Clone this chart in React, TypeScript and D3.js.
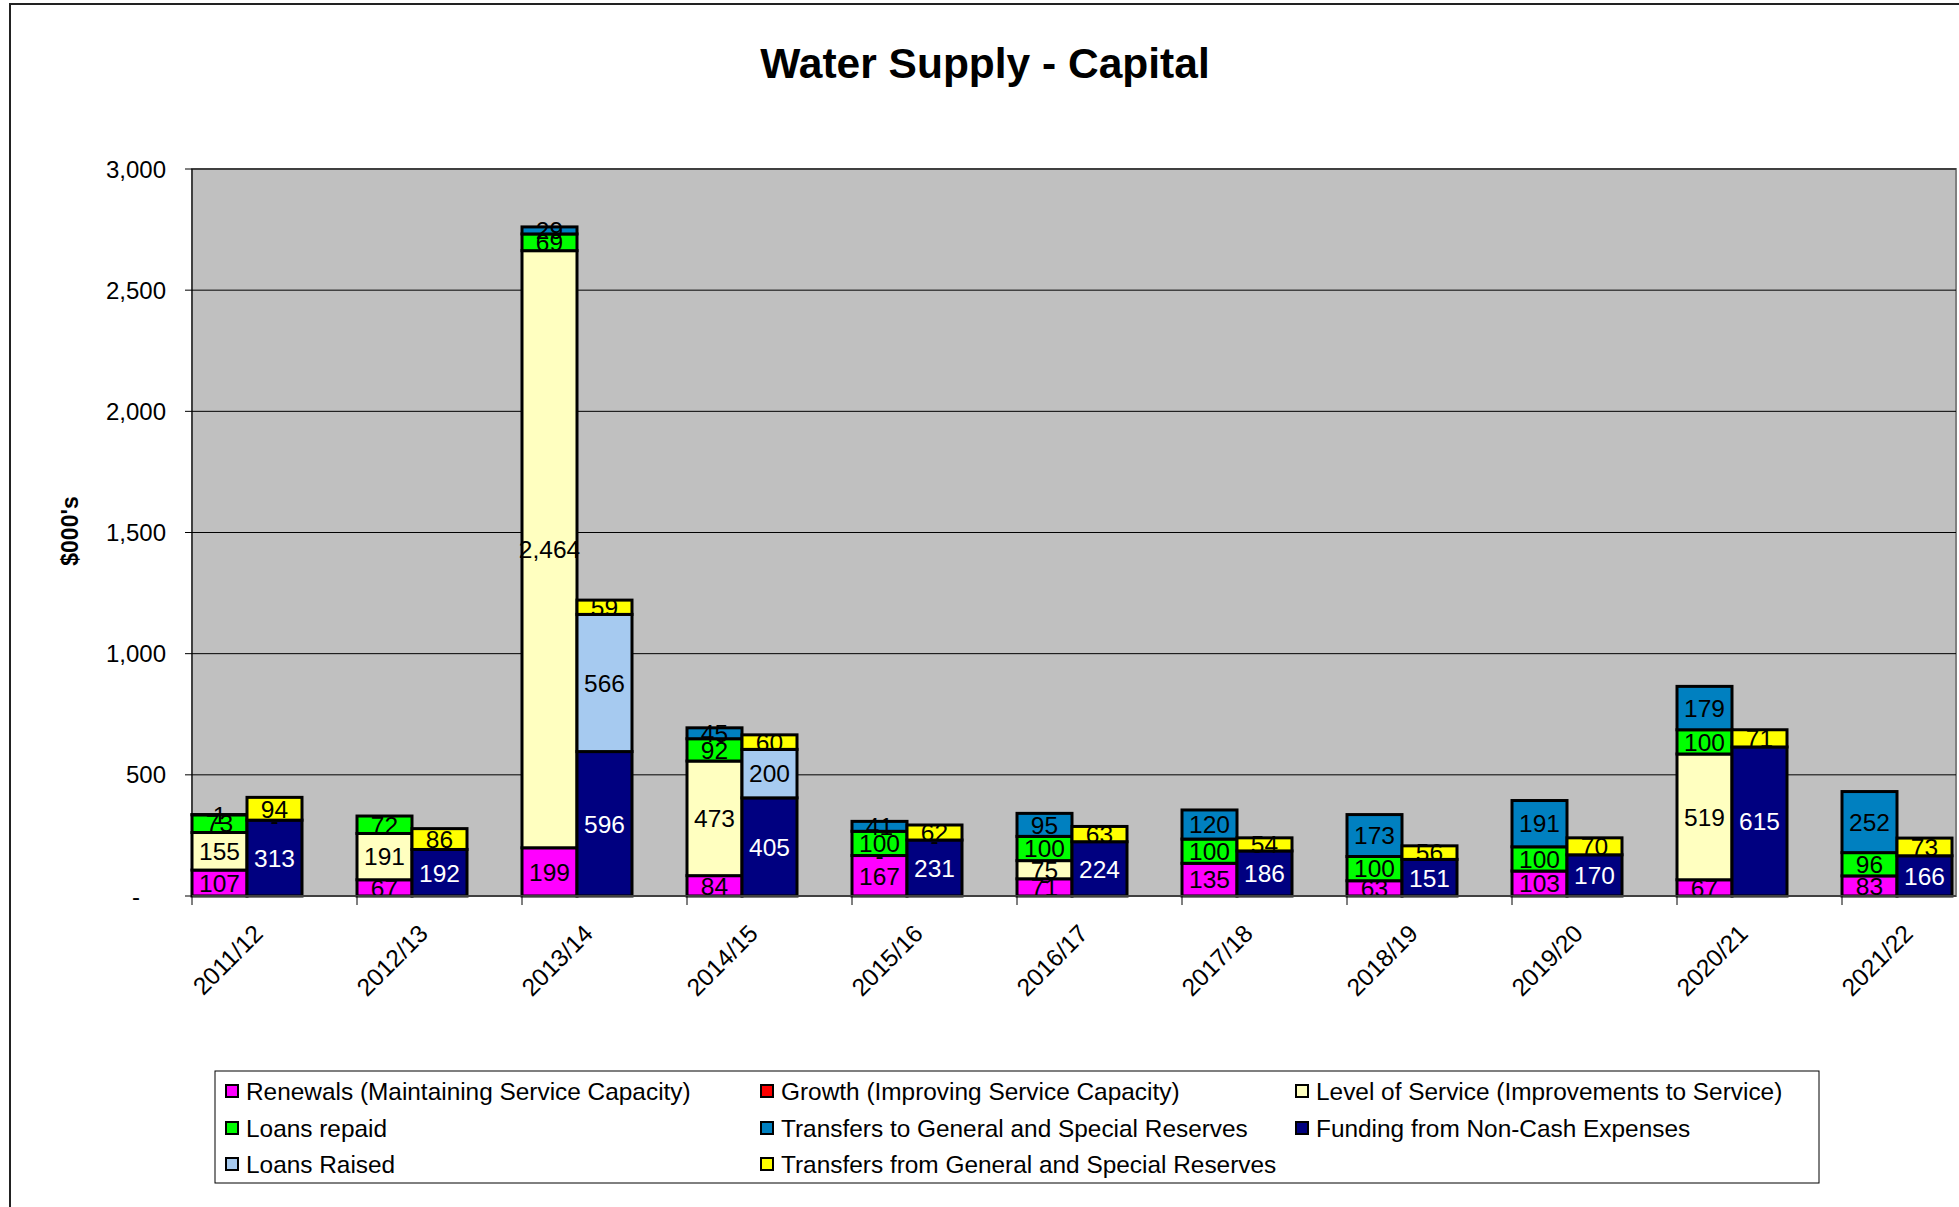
import React from "react";
import * as d3 from "d3";

const years = ["2011/12", "2012/13", "2013/14", "2014/15", "2015/16", "2016/17", "2017/18", "2018/19", "2019/20", "2020/21", "2021/22"];

const renewals = [107, 67, 199, 84, 167, 71, 135, 63, 103, 67, 83];
const growth = [null, null, null, null, null, 0, null, null, null, null, null];
const levelOfService = [155, 191, 2464, 473, 0, 75, null, null, null, 519, null];
const loansRepaid = [73, 72, 69, 92, 100, 100, 100, 100, 100, 100, 96];
const transfersTo = [1, null, 29, 45, 41, 95, 120, 173, 191, 179, 252];
const nonCash = [313, 192, 596, 405, 231, 224, 186, 151, 170, 615, 166];
const loansRaised = [0, null, 566, 200, 0, null, null, null, null, null, null];
const transfersFrom = [94, 86, 59, 60, 62, 63, 54, 56, 70, 71, 73];

const yTicks = [0, 500, 1000, 1500, 2000, 2500, 3000];

type Series = { name: string; values: (number | null)[]; color: string; text: string; group: 0 | 1 };

const seriesList: Series[] = [
  { name: "Renewals (Maintaining Service Capacity)", values: renewals, color: "#FF00FF", text: "#000", group: 0 },
  { name: "Growth (Improving Service Capacity)", values: growth, color: "#FF0000", text: "#000", group: 0 },
  { name: "Level of Service (Improvements to Service)", values: levelOfService, color: "#FFFFC0", text: "#000", group: 0 },
  { name: "Loans repaid", values: loansRepaid, color: "#00FF00", text: "#000", group: 0 },
  { name: "Transfers to General and Special Reserves", values: transfersTo, color: "#0080C0", text: "#000", group: 0 },
  { name: "Funding from Non-Cash Expenses", values: nonCash, color: "#000080", text: "#FFF", group: 1 },
  { name: "Loans Raised", values: loansRaised, color: "#A6CAF0", text: "#000", group: 1 },
  { name: "Transfers from General and Special Reserves", values: transfersFrom, color: "#FFFF00", text: "#000", group: 1 },
];

const FONT = "'Liberation Sans', Arial, sans-serif";

export default function App() {
  const W = 1959, H = 1207;
  const plotL = 192, plotR = 1956, plotT = 169, plotB = 896;
  const slots = d3.range(years.length * 3);
  const x = d3.scaleBand<number>().domain(slots).range([plotL, plotL + 55 * slots.length]).padding(0);
  const y = d3.scaleLinear().domain([0, 3000]).range([plotB, plotT]);
  const fmt = d3.format(",");
  const labelFmt = (v: number) => (v === 0 ? "-" : fmt(v));

  const rects: any[] = [];
  const labels: any[] = [];
  years.forEach((yr, i) => {
    const base = [0, 0];
    seriesList.forEach((s, si) => {
      const v = s.values[i];
      if (v === null || v === undefined) return;
      const g = s.group;
      const x0 = x(i * 3 + g)!;
      const bw = x.bandwidth();
      const y0 = y(base[g]);
      const y1 = y(base[g] + v);
      if (v > 0) {
        rects.push(
          <rect key={`r-${i}-${si}`} x={x0} y={y1} width={bw} height={y0 - y1} fill={s.color} stroke="#000" strokeWidth={3} />
        );
      }
      labels.push(
        <text key={`l-${i}-${si}`} x={x0 + bw / 2} y={(y0 + y1) / 2} dy="0.36em" textAnchor="middle" fontSize={24.5} fill={s.text} fontFamily={FONT}>
          {labelFmt(v)}
        </text>
      );
      base[g] += v;
    });
  });

  const legendCols = [226, 761, 1296];
  const legendRows = [1091, 1128, 1164];

  return (
    <svg width={W} height={H} style={{ position: "absolute", left: 0, top: 0, background: "#fff" }} fontFamily={FONT}>
      <rect x={0} y={0} width={W} height={H} fill="#fff" />
      <rect x={10} y={4} width={2200} height={1400} fill="#fff" stroke="#222" strokeWidth={2} />
      <text x={985} y={78} textAnchor="middle" fontSize={42.5} fontWeight="bold" fill="#000">Water Supply - Capital</text>

      <rect x={plotL} y={plotT} width={plotR - plotL} height={plotB - plotT} fill="#C0C0C0" stroke="#808080" strokeWidth={2} />
      {yTicks.filter((t) => t > 0).map((t) => (
        <line key={`g${t}`} x1={plotL} x2={plotR} y1={y(t)} y2={y(t)} stroke="#000" strokeWidth={1} />
      ))}
      {yTicks.map((t) => (
        <g key={`yt${t}`}>
          <line x1={plotL - 7} x2={plotL} y1={y(t)} y2={y(t)} stroke="#000" strokeWidth={1} />
          <text x={t === 0 ? 140 : 166} y={y(t)} dy="0.36em" textAnchor="end" fontSize={24} fill="#000">{t === 0 ? "-" : fmt(t)}</text>
        </g>
      ))}
      <line x1={plotL} x2={plotL} y1={plotT} y2={plotB} stroke="#000" strokeWidth={1} />
      <text transform={`translate(78,531) rotate(-90)`} textAnchor="middle" fontSize={23} fontWeight="bold" fill="#000">$000's</text>

      {rects}
      {labels}

      <line x1={plotL} x2={plotR} y1={plotB} y2={plotB} stroke="#404040" strokeWidth={2} />
      {years.map((yr, i) => (
        <line key={`xt${i}`} x1={x(i * 3)!} x2={x(i * 3)!} y1={plotB} y2={plotB + 9} stroke="#000" strokeWidth={1} />
      ))}
      {years.map((yr, i) => {
        const cx = x(i * 3)! + (x.bandwidth() * 3) / 2 - 10;
        return (
          <text key={`xl${i}`} transform={`translate(${cx},935) rotate(-45)`} textAnchor="end" fontSize={24.5} fill="#000">{yr}</text>
        );
      })}

      <rect x={215} y={1071} width={1604} height={112} fill="#fff" stroke="#000" strokeWidth={1} />
      {seriesList.map((s, k) => {
        const cx = legendCols[k % 3];
        const cy = legendRows[Math.floor(k / 3)];
        return (
          <g key={`lg${k}`}>
            <rect x={cx} y={cy - 6} width={12} height={12} fill={s.color} stroke="#000" strokeWidth={2} />
            <text x={cx + 20} y={cy} dy="0.36em" fontSize={24.4} fill="#000">{s.name}</text>
          </g>
        );
      })}
    </svg>
  );
}
